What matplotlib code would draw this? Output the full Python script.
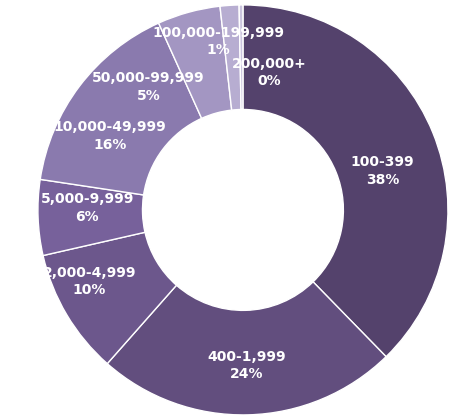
import matplotlib.pyplot as plt

labels = ["100-399", "400-1,999", "2,000-4,999", "5,000-9,999", "10,000-49,999",
          "50,000-99,999", "100,000-199,999", "200,000+"]
values = [38, 24, 10, 6, 16, 5, 1.5, 0.3]
pct_text = ["38%", "24%", "10%", "6%", "16%", "5%", "1%", "0%"]
colors = ["#54426c", "#624e7e", "#6c578c", "#77619b", "#8a7aae", "#a396c2", "#b7add1", "#cbc4de"]
# label anchor points (data units, ring radius 1)
label_pos = [(0.68, 0.19), (0.02, -0.76), (-0.75, -0.35), (-0.76, 0.01),
             (-0.65, 0.36), (-0.46, 0.60), (-0.12, 0.82), (0.13, 0.67)]

fig = plt.figure(figsize=(4.5, 4.18), dpi=100)
ax = fig.add_axes([0, 0, 1, 1])
ax.pie(values, colors=colors, startangle=90, counterclock=False, radius=1,
       wedgeprops=dict(width=0.51, edgecolor="white", linewidth=1))
ax.set_xlim(-1.185, 1.01)
ax.set_ylim(-1.015, 1.024)
ax.set_aspect("auto")
ax.axis("off")

for lab, p, (x, y) in zip(labels, pct_text, label_pos):
    ax.text(x, y, lab + "\n" + p, ha="center", va="center", color="white",
            fontsize=10, fontweight="bold", linespacing=1.3)

fig.savefig("out.png", dpi=100)
